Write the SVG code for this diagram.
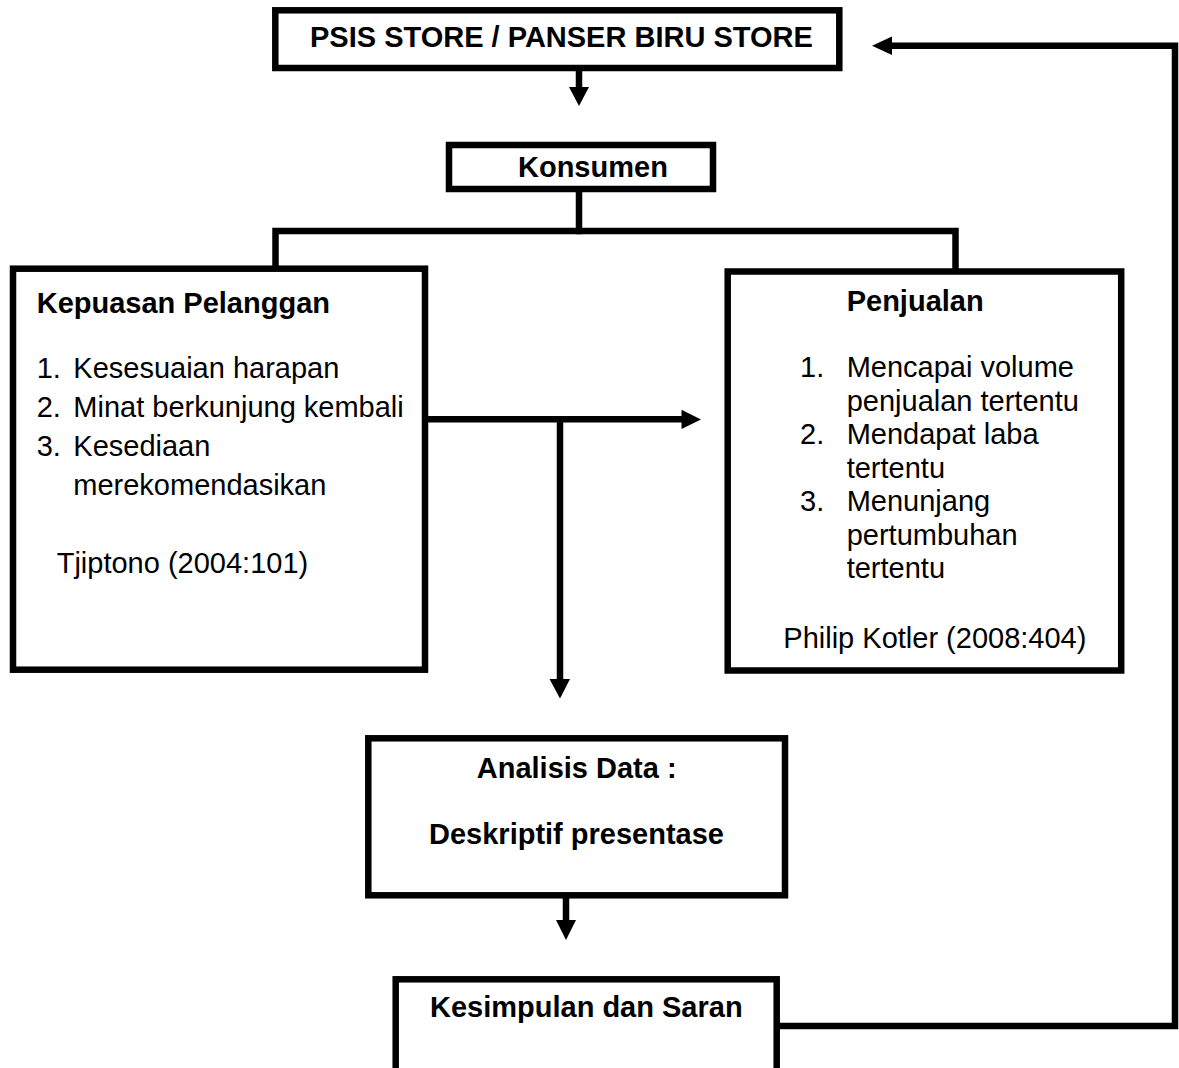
<svg xmlns="http://www.w3.org/2000/svg" width="1179" height="1068" viewBox="0 0 1179 1068">
<style>
.box{fill:#fff;stroke:#000;stroke-width:6.5}
.ln{fill:none;stroke:#000;stroke-width:6.5;stroke-linecap:square;stroke-linejoin:miter}
.hd{fill:#000;stroke:none}
text{font-family:"Liberation Sans",Arial,sans-serif;font-size:29px;fill:#000}
.b{font-weight:bold}
</style>
<rect x="0" y="0" width="1179" height="1068" fill="#fff"/>
<g id="connectors">
<line class="ln" x1="579" y1="72" x2="579" y2="88"/>
<polygon class="hd" points="569,87 589,87 579,106"/>
<line class="ln" x1="579" y1="193" x2="579" y2="231"/>
<polyline class="ln" points="275.5,266 275.5,231 955.5,231 955.5,269"/>
<line class="ln" x1="429" y1="419.3" x2="682" y2="419.3"/>
<polygon class="hd" points="681.5,409.8 681.5,429 701,419.4"/>
<line class="ln" x1="560" y1="419.3" x2="560" y2="680"/>
<polygon class="hd" points="549.5,679 570,679 560,698.5"/>
<line class="ln" x1="566" y1="899" x2="566" y2="921"/>
<polygon class="hd" points="556,920 576,920 566,940"/>
<polyline class="ln" points="780,1026 1175,1026 1175,45.7 892,45.7"/>
<polygon class="hd" points="892,36.5 892,55 872,45.7"/>
</g>
<g id="store">
<rect class="box" x="275.3" y="10.3" width="564" height="57.7"/>
<text class="b" x="310" y="46.7">PSIS STORE / PANSER BIRU STORE</text>
</g>
<g id="konsumen">
<rect class="box" x="449" y="145" width="264" height="44"/>
<text class="b" x="518" y="176.7">Konsumen</text>
</g>
<g id="kepuasan">
<rect class="box" x="13" y="268.7" width="412" height="401"/>
<text class="b" x="36.7" y="313.3">Kepuasan Pelanggan</text>
<text x="36.7" y="378.3">1.</text><text x="73.3" y="378.3">Kesesuaian harapan</text>
<text x="36.7" y="417.3">2.</text><text x="73.3" y="417.3">Minat berkunjung kembali</text>
<text x="36.7" y="456">3.</text><text x="73.3" y="456">Kesediaan</text>
<text x="73.3" y="494.7">merekomendasikan</text>
<text x="56.7" y="573.3">Tjiptono (2004:101)</text>
</g>
<g id="penjualan">
<rect class="box" x="727.7" y="271.5" width="393.5" height="399"/>
<text class="b" x="846.7" y="310.7">Penjualan</text>
<text x="800" y="377">1.</text><text x="846.7" y="377">Mencapai volume</text>
<text x="846.7" y="410.5">penjualan tertentu</text>
<text x="800" y="444">2.</text><text x="846.7" y="444">Mendapat laba</text>
<text x="846.7" y="477.5">tertentu</text>
<text x="800" y="511">3.</text><text x="846.7" y="511">Menunjang</text>
<text x="846.7" y="544.5">pertumbuhan</text>
<text x="846.7" y="578">tertentu</text>
<text x="783.3" y="648.3">Philip Kotler (2008:404)</text>
</g>
<g id="analisis">
<rect class="box" x="368.3" y="738.3" width="416.7" height="157"/>
<text class="b" x="576.7" y="778.3" text-anchor="middle">Analisis Data :</text>
<text class="b" x="576.5" y="844" text-anchor="middle">Deskriptif presentase</text>
</g>
<g id="kesimpulan">
<rect class="box" x="395.7" y="979.3" width="381" height="120"/>
<text class="b" x="586.3" y="1016.7" text-anchor="middle">Kesimpulan dan Saran</text>
</g>
</svg>
